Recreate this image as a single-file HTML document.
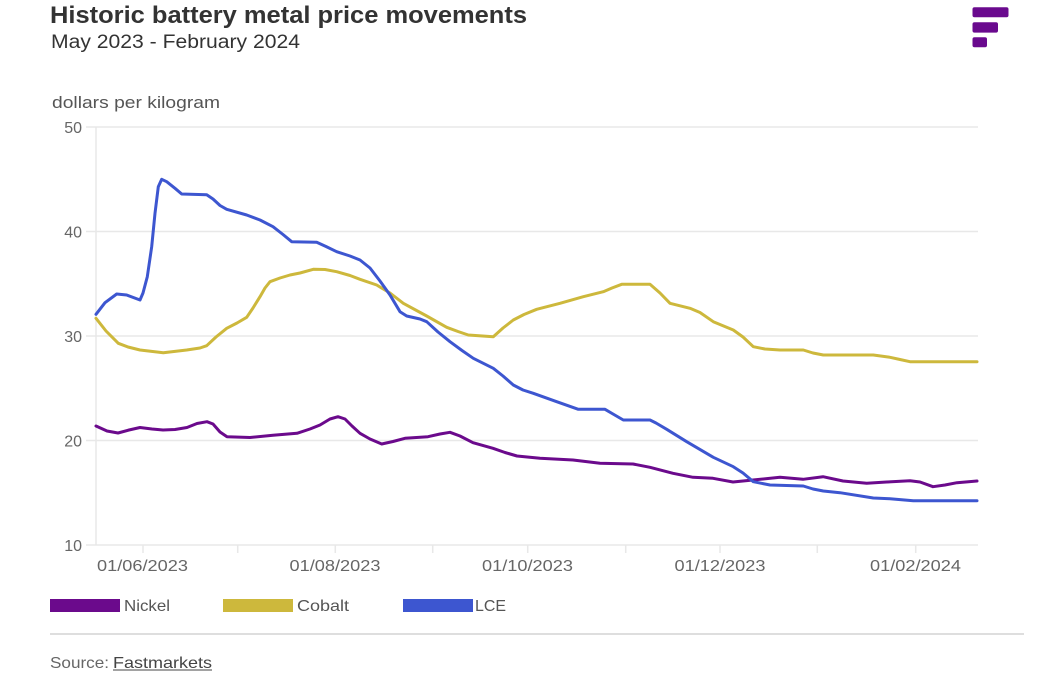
<!DOCTYPE html>
<html>
<head>
<meta charset="utf-8">
<style>
  html,body{margin:0;padding:0;background:#fff;}
  svg{display:block;font-family:"Liberation Sans",sans-serif;}
</style>
</head>
<body>
<svg width="1039" height="674" viewBox="0 0 1039 674" xmlns="http://www.w3.org/2000/svg">
  <rect width="1039" height="674" fill="#fff"/>
  <!-- Title -->
  <text x="50" y="23" font-size="24" font-weight="bold" fill="#333" textLength="477" lengthAdjust="spacingAndGlyphs">Historic battery metal price movements</text>
  <text x="51" y="48" font-size="19" fill="#333" textLength="249" lengthAdjust="spacingAndGlyphs">May 2023 - February 2024</text>
  <!-- Logo -->
  <g fill="#6a0a8e">
    <rect x="972.5" y="7.3" width="36" height="10" rx="2"/>
    <rect x="972.5" y="22.3" width="25.5" height="10.3" rx="2"/>
    <rect x="972.5" y="37.3" width="14.5" height="10" rx="2"/>
  </g>
  <!-- Axis title -->
  <text x="52" y="108" font-size="17" fill="#555" textLength="168" lengthAdjust="spacingAndGlyphs">dollars per kilogram</text>
  <!-- Gridlines -->
  <g stroke="#e8e8e8" stroke-width="1.5">
    <line x1="86" y1="127" x2="978" y2="127"/>
    <line x1="86" y1="231.5" x2="978" y2="231.5"/>
    <line x1="86" y1="336" x2="978" y2="336"/>
    <line x1="86" y1="440.5" x2="978" y2="440.5"/>
    <line x1="86" y1="545" x2="978" y2="545"/>
    <line x1="96" y1="127" x2="96" y2="545"/>
    <line x1="143" y1="545" x2="143" y2="553"/>
    <line x1="237.7" y1="545" x2="237.7" y2="553"/>
    <line x1="335.3" y1="545" x2="335.3" y2="553"/>
    <line x1="432.7" y1="545" x2="432.7" y2="553"/>
    <line x1="527.7" y1="545" x2="527.7" y2="553"/>
    <line x1="625.7" y1="545" x2="625.7" y2="553"/>
    <line x1="720" y1="545" x2="720" y2="553"/>
    <line x1="817.3" y1="545" x2="817.3" y2="553"/>
    <line x1="915.7" y1="545" x2="915.7" y2="553"/>
  </g>
  <!-- Y labels -->
  <g font-size="16" fill="#666" text-anchor="end">
    <text x="82" y="133">50</text>
    <text x="82" y="237.5">40</text>
    <text x="82" y="342">30</text>
    <text x="82" y="446.5">20</text>
    <text x="82" y="551">10</text>
  </g>
  <!-- X labels -->
  <g font-size="16" fill="#666">
    <text x="97" y="571" textLength="91" lengthAdjust="spacingAndGlyphs">01/06/2023</text>
    <text x="289.5" y="571" textLength="91" lengthAdjust="spacingAndGlyphs">01/08/2023</text>
    <text x="482" y="571" textLength="91" lengthAdjust="spacingAndGlyphs">01/10/2023</text>
    <text x="674.5" y="571" textLength="91" lengthAdjust="spacingAndGlyphs">01/12/2023</text>
    <text x="870" y="571" textLength="91" lengthAdjust="spacingAndGlyphs">01/02/2024</text>
  </g>
  <!-- Series -->
  <g fill="none" stroke-width="3" stroke-linejoin="round" stroke-linecap="round">
    <polyline stroke="#cdb83c" points="96,318.3 106,331 118.3,343.3 128,347 140,350 163.3,352.7 186.7,350 200,348 206.7,345.7 216,337 226.7,328.3 237,323 246.7,317.3 253,308 260,296.7 265,288 270,281.7 280,278 290,275 300,273 313.3,269.3 325,269.5 336.7,271.7 350,275.5 360,279.3 376.7,285 390,293 403.3,303.3 426.7,316 446.7,327.3 458,331.5 468.3,335 493.3,336.7 503,328 513.3,320 524,314.5 536.7,309.3 560,303.3 583.3,296.7 603.3,291.7 612,288 621.7,284.3 650,284.3 660,293 670,303.3 690,308.3 700,312.5 713.3,321.7 733.3,330 743,337 753.3,346.7 765,349 780,350 803.3,350 813,353 823.3,355 873.3,355 890,357.3 900,359.5 910,361.7 977,361.7"/>
    <polyline stroke="#6b0a8c" points="96,426 107,431 118,433 129,430 140,427.5 152,429 163,430 175,429.5 187,427.5 197,423.5 207,421.7 213,424 220,432 227,436.7 250,437.5 273,435.3 297,433.3 310,429 320,425 330,419 338,416.7 345,419 352,426 360,433.3 370,439 381.7,444 393,441.5 405,438.3 428,436.7 440,434 450,432.3 460,436 473,442.7 493,448.3 505,452.5 517,456 540,458.3 573,460 600,463.3 633,464 650,467.3 673,473.3 693,477.3 713,478.3 733,482 753,480 780,477.3 803,479.3 823,476.7 843,481 866.7,483.3 886.7,482 910,480.7 920,482 933,486.7 945,485 957,482.7 977,481"/>
    <polyline stroke="#3d56d0" points="96,314.3 105,302.7 116.7,294 126.7,295 136,298.5 140,300 143,293 147.3,276.7 151.7,246.7 155,213.3 158.3,186.7 161.7,179.3 166.7,181.7 175,188.3 181.7,194 206.7,194.7 213,199 220,205.5 226.7,209.3 246.7,215 260,220 273,226.7 283,234.5 291.7,241.7 316.7,242.3 326,246.5 336.7,251.7 350,256 360,260 370,268 380,281 390,295 400,311.7 406.7,316 420,319 426.7,321.7 438,332 450,341.7 462,350.5 473.3,358.3 493.3,368.3 503,376 513.3,385 523,390 533.3,393.3 556.7,401.7 578.3,409.3 605,409.3 613,414 623.3,420 650,420 656,423 666.7,429.3 686.7,441.7 713.3,457.3 733.3,466.7 743,473 753.3,481.7 770,485 803.3,486 813,489 823.3,491 840,492.7 873.3,498 890,498.7 913.3,500.7 977,500.7"/>
  </g>
  <!-- Legend -->
  <rect x="50" y="599" width="70" height="13" fill="#6b0a8c"/>
  <text x="124" y="611" font-size="16" fill="#555" textLength="46" lengthAdjust="spacingAndGlyphs">Nickel</text>
  <rect x="223" y="599" width="70" height="13" fill="#cdb83c"/>
  <text x="297" y="611" font-size="16" fill="#555" textLength="52" lengthAdjust="spacingAndGlyphs">Cobalt</text>
  <rect x="403" y="599" width="70" height="13" fill="#3d56d0"/>
  <text x="475" y="611" font-size="16" fill="#555" textLength="31" lengthAdjust="spacingAndGlyphs">LCE</text>
  <!-- Divider -->
  <line x1="50" y1="634" x2="1024" y2="634" stroke="#dedede" stroke-width="2"/>
  <!-- Source -->
  <text x="50" y="668" font-size="16" fill="#666" textLength="59" lengthAdjust="spacingAndGlyphs">Source:</text>
  <text x="113" y="668" font-size="16" fill="#444" textLength="99" lengthAdjust="spacingAndGlyphs">Fastmarkets</text>
  <line x1="113" y1="670" x2="212" y2="670" stroke="#444" stroke-width="1"/>
</svg>
</body>
</html>
